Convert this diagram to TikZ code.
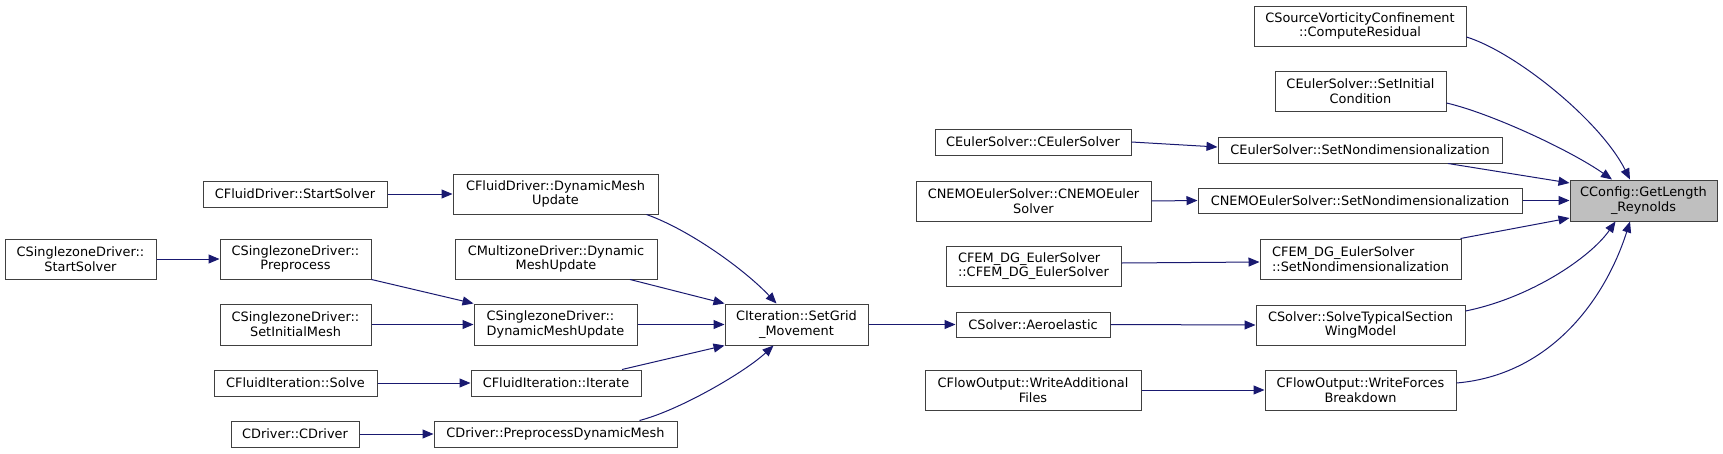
\documentclass[tikz,border=0pt]{standalone}
\usepackage{fontspec}
\setmainfont{DejaVu Sans}
\usetikzlibrary{arrows.meta,calc}
\definecolor{edgec}{HTML}{191970}
\definecolor{bord}{HTML}{404040}
\definecolor{rootc}{HTML}{BFBFBF}
\tikzset{
  box/.style={draw=bord, line width=1pt, fill=white, inner sep=0pt, align=center,
    font=\fontsize{12.9}{14.7}\selectfont},
  call/.style={draw=edgec, line width=1pt, -{Triangle[length=11pt,width=9pt]}},
}
\newcommand\callnode[7][]{%
  \node[box,#1,minimum width={(#5-#3)*1pt},minimum height={(#6-#4)*1pt}]
    (#2) at ({(#3+#5)/2},{(#4+#6)/2}) {#7};}
\begin{document}
\begin{tikzpicture}[x=1pt,y=-1pt]
\useasboundingbox (0,0) rectangle (1723,453);
\callnode{fds}{203}{181}{387}{207}{CFluidDriver::StartSolver}
\callnode{szs}{5}{239}{156}{279}{CSinglezoneDriver::\\StartSolver}
\callnode{szp}{220}{239}{371}{279}{CSinglezoneDriver::\\Preprocess}
\callnode{szi}{220}{304}{371}{345}{CSinglezoneDriver::\\SetInitialMesh}
\callnode{fis}{214}{370}{377}{396}{CFluidIteration::Solve}
\callnode{cdc}{231}{421}{359}{447}{CDriver::CDriver}
\callnode{fdm}{453}{174}{658}{214}{CFluidDriver::DynamicMesh\\Update}
\callnode{mzd}{455}{239}{657}{279}{CMultizoneDriver::Dynamic\\MeshUpdate}
\callnode[align=left]{szd}{474}{304}{637}{345}{CSinglezoneDriver::\\DynamicMeshUpdate}
\callnode{fii}{471}{370}{641}{396}{CFluidIteration::Iterate}
\callnode{cdp}{434}{421}{677}{447}{CDriver::PreprocessDynamicMesh}
\callnode{cit}{725}{304}{868}{345}{CIteration::SetGrid\\\_Movement}
\callnode{ecc}{935}{129}{1131}{155}{CEulerSolver::CEulerSolver}
\callnode{ncc}{916}{181}{1151}{221}{CNEMOEulerSolver::CNEMOEuler\\Solver}
\callnode[align=left]{fcc}{946}{246}{1121}{286}{CFEM\_DG\_EulerSolver\\::CFEM\_DG\_EulerSolver}
\callnode{sae}{956}{312}{1110}{337}{CSolver::Aeroelastic}
\callnode{wad}{925}{370}{1141}{410}{CFlowOutput::WriteAdditional\\Files}
\callnode{svc}{1254}{6}{1466}{46}{CSourceVorticityConfinement\\::ComputeResidual}
\callnode{sic}{1275}{71}{1446}{111}{CEulerSolver::SetInitial\\Condition}
\callnode{esn}{1218}{137}{1502}{163}{CEulerSolver::SetNondimensionalization}
\callnode{nsn}{1198}{188}{1522}{213}{CNEMOEulerSolver::SetNondimensionalization}
\callnode[align=left]{fsn}{1260}{239}{1461}{279}{CFEM\_DG\_EulerSolver\\::SetNondimensionalization}
\callnode{sts}{1256}{305}{1465}{345}{CSolver::SolveTypicalSection\\WingModel}
\callnode{wfb}{1265}{370}{1456}{410}{CFlowOutput::WriteForces\\Breakdown}
\callnode[fill=rootc]{cfg}{1570}{180}{1717}{221}{CConfig::GetLength\\\_Reynolds}

\draw[call] (fds.east) -- (fdm.west);
\draw[call] (szs.east) -- (szp.west);
\draw[call] (szp.south east) -- (szd.north west);
\draw[call] (szi.east) -- (szd.west);
\draw[call] (fis.east) -- (fii.west);
\draw[call] (cdc.east) -- (cdp.west);
\draw[call] ($(fdm.south)+(91,0)$) .. controls (690,230) and (745,270) .. ($(cit.north)+(-20,0)$);
\draw[call] ($(mzd.south)+(74,0)$) -- (cit.north west);
\draw[call] (szd.east) -- (cit.west);
\draw[call] ($(fii.north)+(66,0)$) -- (cit.south west);
\draw[call] ($(cdp.north)+(84,0)$) .. controls (680,410) and (745,372) .. ($(cit.south)+(-23,0)$);
\draw[call] (cit.east) -- (sae.west);
\draw[call] (ecc.east) -- ($(esn.west)+(0,-3)$);
\draw[call] (ncc.east) -- (nsn.west);
\draw[call] ($(fcc.east)+(0,-3)$) -- ($(fsn.west)+(0,3)$);
\draw[call] (sae.east) -- (sts.west);
\draw[call] (wad.east) -- (wfb.west);
\draw[call] ($(svc.east)+(0,11)$) .. controls (1515,52) and (1600,120) .. ($(cfg.north)+(-13.5,0)$);
\draw[call] ($(sic.east)+(0,12)$) .. controls (1490,113) and (1570,150) .. ($(cfg.north)+(-31.5,0)$);
\draw[call] ($(esn.south)+(88,0)$) -- ($(cfg.west)+(0,-17.5)$);
\draw[call] (nsn.east) -- (cfg.west);
\draw[call] ($(fsn.north east)+(-1,0)$) -- ($(cfg.west)+(0,17.5)$);
\draw[call] ($(sts.east)+(0,-14)$) .. controls (1530,298) and (1590,258) .. ($(cfg.south)+(-28,0)$);
\draw[call] ($(wfb.east)+(0,-7)$) .. controls (1550,375) and (1605,300) .. ($(cfg.south)+(-13.5,0)$);
\end{tikzpicture}
\end{document}
